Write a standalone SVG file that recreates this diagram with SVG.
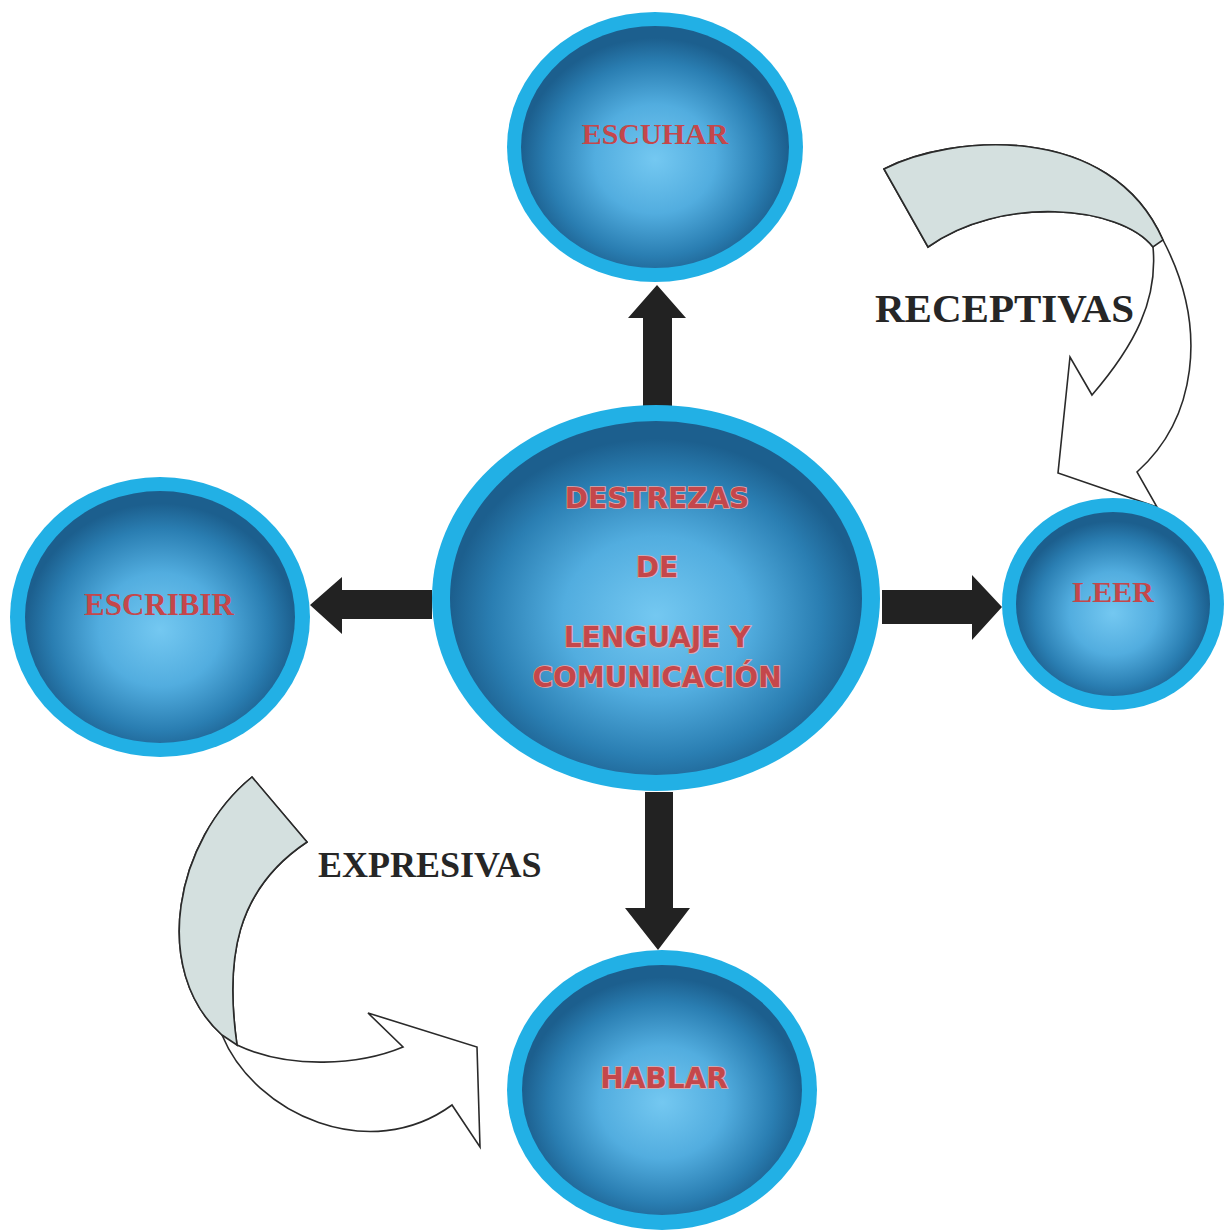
<svg xmlns="http://www.w3.org/2000/svg" width="1227" height="1231" viewBox="0 0 1227 1231">
<defs>
<radialGradient id="ball" cx="50%" cy="55%" r="50%">
<stop offset="0" stop-color="#74c8f1"/>
<stop offset="0.45" stop-color="#52addf"/>
<stop offset="0.8" stop-color="#2a7eb2"/>
<stop offset="1" stop-color="#1c5f8e"/>
</radialGradient>
<style>
.ring{fill:#22b0e5}
.core{fill:url(#ball)}
.lbl{font-family:"Liberation Serif","Times New Roman",serif;font-weight:bold;fill:#c4474b;text-anchor:middle}
.lbl2{font-family:"DejaVu Sans",Verdana,sans-serif;font-weight:bold;fill:#c4474b;text-anchor:middle;stroke:#e6a7a6;stroke-width:1.6;paint-order:stroke}
.blk{fill:#222}
.curve{fill:#fff;stroke:#2a2a2a;stroke-width:1.6;stroke-linejoin:miter}
.shade{fill:#d4e0df;stroke:#2a2a2a;stroke-width:1.6}
.cap{font-family:"Liberation Serif","Times New Roman",serif;font-weight:bold;fill:#262626}
</style>
</defs>
<rect width="1227" height="1231" fill="#fff"/>

<g id="connectors">
<!-- up -->
<path class="blk" d="M643,410 L643,318 L628,318 L657,285 L686,318 L672,318 L672,410 Z"/>
<!-- down -->
<path class="blk" d="M645,792 L645,908 L625,908 L658,950 L690,908 L673,908 L673,792 Z"/>
<!-- left -->
<path class="blk" d="M432,590 L342,590 L342,577 L310,605 L342,634 L342,619 L432,619 Z"/>
<!-- right -->
<path class="blk" d="M882,590 L972,590 L972,575 L1002,607 L972,640 L972,624 L882,624 Z"/>
<!-- receptivas curved arrow -->
<path class="curve" d="M884,169 C950,135 1110,120 1163,240 C1210,330 1195,420 1137,472 L1157,507 L1058,473 L1070,357 L1092,395 C1135,345 1158,300 1153,247 C1120,205 1000,195 928,247 Z"/>
<path class="shade" d="M884,169 C950,135 1110,120 1163,240 L1153,247 C1120,205 1000,195 928,247 Z"/>
<!-- expresivas curved arrow -->
<path class="curve" d="M252,777 C175,840 150,970 222,1035 C255,1115 370,1165 452,1105 L480,1147 L477,1047 L368,1013 L403,1047 C360,1065 290,1070 237,1045 C225,960 235,890 307,842 Z"/>
<path class="shade" d="M252,777 C175,840 150,970 222,1035 L237,1045 C225,960 235,890 307,842 Z"/>
</g>

<g id="escuchar">
<ellipse class="ring" cx="655" cy="147" rx="148" ry="135"/>
<ellipse class="core" cx="655" cy="147" rx="134" ry="121"/>
<text class="lbl" x="655" y="144" font-size="30">ESCUHAR</text>
</g>

<g id="destrezas">
<ellipse class="ring" cx="656" cy="598" rx="224" ry="193"/>
<ellipse class="core" cx="656" cy="598" rx="206" ry="177"/>
<text class="lbl2" x="657" y="508" font-size="28">DESTREZAS</text>
<text class="lbl2" x="657" y="577" font-size="28">DE</text>
<text class="lbl2" x="657" y="647" font-size="28">LENGUAJE Y</text>
<text class="lbl2" x="657" y="687" font-size="28">COMUNICACIÓN</text>
</g>

<g id="escribir">
<ellipse class="ring" cx="160" cy="617" rx="150" ry="140"/>
<ellipse class="core" cx="160" cy="617" rx="135" ry="126"/>
<text class="lbl" x="159" y="615" font-size="31">ESCRIBIR</text>
</g>

<g id="leer">
<ellipse class="ring" cx="1113" cy="604" rx="111" ry="106"/>
<ellipse class="core" cx="1113" cy="604" rx="97" ry="92"/>
<text class="lbl" x="1113" y="602" font-size="30">LEER</text>
</g>

<g id="hablar">
<ellipse class="ring" cx="662" cy="1090" rx="155" ry="140"/>
<ellipse class="core" cx="662" cy="1090" rx="140" ry="125"/>
<text class="lbl2" x="664" y="1088" font-size="28">HABLAR</text>
</g>

<g id="labels">
<text class="cap" x="875" y="322" font-size="41">RECEPTIVAS</text>
<text class="cap" x="318" y="877" font-size="36">EXPRESIVAS</text>
</g>
</svg>
